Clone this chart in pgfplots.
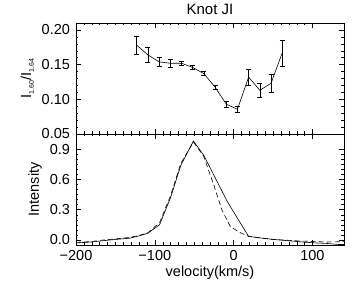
\documentclass[border=0pt]{standalone}
\usepackage{pgfplots}
\pgfplotsset{compat=1.18}
\usepackage{fontspec}
\setmainfont{Liberation Sans}
\begin{document}
\fontsize{14.5}{17}\selectfont
\begin{tikzpicture}
\useasboundingbox (-76pt,-49pt) rectangle (281pt,245pt);
\pgfplotsset{
  every axis/.append style={
    scale only axis, width=268pt, height=111pt,
    xmin=-200, xmax=140,
    xtick={-200,-100,0,100},
    minor x tick num=9,
    tick align=inside,
    major tick length=5pt, minor tick length=2.5pt,
    tick style={black, line width=0.4pt},
    axis line style={line width=0.6pt},
    /pgf/number format/assume math mode=true,
    ticklabel style={font=\fontsize{14.5}{17}\selectfont},
    label style={font=\fontsize{14.5}{17}\selectfont},
    yticklabel style={xshift=-1pt},
  }
}
% bottom panel
\begin{axis}[
  at={(0,0)}, anchor=south west,
  ymin=-0.05, ymax=1.05,
  ytick={0,0.3,0.6,0.9},
  yticklabels={0.0,0.3,0.6,0.9},
  minor y tick num=5,
  xticklabels={−200,−100,0,100},
  xlabel={velocity(km/s)},
  ylabel={Intensity},
  xlabel style={yshift=4pt},
  ylabel style={yshift=-2pt},
]
\addplot[black, line width=0.6pt] coordinates {
(-200,-0.03) (-180,-0.02) (-165,-0.007) (-150,0.005) (-132,0.017) (-120,0.04)
(-109,0.066) (-94,0.15) (-80,0.42) (-67,0.74) (-51,0.98) (-38,0.84) (-23,0.61)
(-8,0.38) (6,0.20) (19,0.035) (34,0.02) (48,0.007) (62,-0.003) (76,-0.012)
(90,-0.022) (105,-0.03) (119,-0.035) (133,-0.045) (140,-0.045)
};
\addplot[black, line width=0.6pt, dash pattern=on 5pt off 3pt] coordinates {
(-200,-0.025) (-180,-0.015) (-165,0.0) (-150,0.01) (-132,0.025) (-120,0.045)
(-109,0.07) (-94,0.17) (-80,0.44) (-67,0.76) (-51,0.97) (-38,0.83) (-25,0.54)
(-15,0.30) (-4,0.13) (10,0.066) (19,0.035) (34,0.02) (48,0.007) (62,0.0)
(76,-0.007) (90,-0.012) (105,-0.017) (119,-0.02) (140,-0.017)
};
\end{axis}
% top panel
\begin{axis}[
  at={(0,111pt)}, anchor=south west,
  ymin=0.05, ymax=0.21,
  ytick={0.05,0.10,0.15,0.20},
  yticklabels={0.05,0.10,0.15,0.20},
  minor y tick num=4,
  xticklabels={},
  ylabel={I\raisebox{-0.35ex}{\fontsize{7}{8}\selectfont 1.60}/I\raisebox{-0.35ex}{\fontsize{7}{8}\selectfont 1.64}},
  ylabel style={yshift=-2pt},
  title={Knot JI},
  title style={font=\fontsize{15}{17}\selectfont, yshift=-3pt},
]
\addplot[black, line width=0.6pt,
  error bars/.cd, y dir=both, y explicit,
  error bar style={line width=0.5pt},
  error mark options={rotate=90, mark size=2.5pt, line width=0.5pt}]
coordinates {
(-123,0.178) +- (0,0.0135)
(-108.8,0.164) +- (0,0.011)
(-94.6,0.154) +- (0,0.0065)
(-80.4,0.152) +- (0,0.0055)
(-66.2,0.152) +- (0,0.003)
(-52,0.146) +- (0,0.0033)
(-37.8,0.137) +- (0,0.003)
(-23.6,0.1176) +- (0,0.003)
(-9.4,0.093) +- (0,0.004)
(4.8,0.0857) +- (0,0.005)
(19,0.132) +- (0,0.0114)
(33.2,0.113) +- (0,0.0107)
(47.4,0.123) +- (0,0.013)
(61.6,0.1667) +- (0,0.0186)
};
\end{axis}
\end{tikzpicture}
\end{document}
